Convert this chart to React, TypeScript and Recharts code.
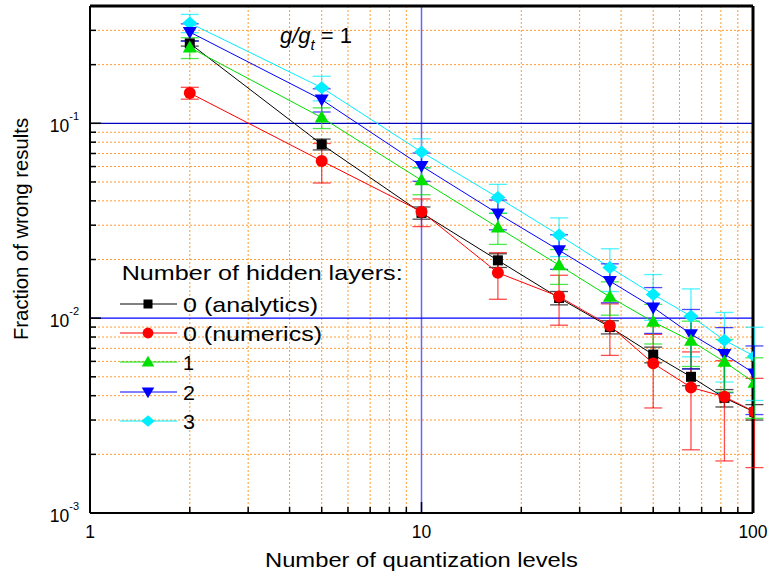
import React from "react";
import {
  ComposedChart,
  Line,
  XAxis,
  YAxis,
  CartesianGrid,
  ReferenceLine,
  ErrorBar,
  Legend,
  Label,
} from "recharts";

// ---------------- data ----------------
const levels = [2, 5, 10, 17, 26, 37, 50, 65, 82, 101];
const analytics = [0.257, 0.078, 0.0347, 0.0198, 0.0127, 0.009, 0.0065, 0.005, 0.0039, 0.0033];
const numerics = [0.143, 0.0641, 0.0352, 0.0171, 0.0129, 0.00914, 0.00586, 0.00441, 0.00395, 0.00331];
const hidden1 = [0.245, 0.107, 0.051, 0.0292, 0.0187, 0.01286, 0.00957, 0.00765, 0.00597, 0.00466];
const hidden2 = [0.294, 0.1323, 0.0604, 0.0344, 0.0223, 0.0155, 0.01135, 0.00828, 0.00654, 0.0052];
const hidden3 = [0.327, 0.1524, 0.0713, 0.0416, 0.0267, 0.0182, 0.01324, 0.01023, 0.0077, 0.00638];

const errAnalytics = [0.008, 0.005, 0.0025, 0.0016, 0.001, 0.0007, 0.0006, 0.0005, 0.0004, 0.0003];
const errNumerics = [0.01, 0.0147, 0.0057, 0.0046, 0.0037, 0.0027, 0.0024, 0.0023, 0.0021, 0.0016];
const errHidden1 = [0.03, 0.013, 0.008, 0.0053, 0.0038, 0.0025, 0.0022, 0.002, 0.0018, 0.0016];
const errHidden2 = [0.03, 0.018, 0.01, 0.006, 0.0045, 0.0035, 0.003, 0.0028, 0.0024, 0.002];
const errHidden3 = [0.035, 0.022, 0.012, 0.007, 0.006, 0.0045, 0.0035, 0.0039, 0.003, 0.0026];

const seriesKeys = ["a", "n", "h1", "h2", "h3"];
const seriesNames = ["0 (analytics)", "0 (numerics)", "1", "2", "3"];
const seriesColors = ["#000000", "#ff0000", "#00e000", "#0000ff", "#00eeff"];
const seriesShapes = ["square", "circle", "up", "down", "diamond"];
const legendTitle = "Number of hidden layers:";
const xTitle = "Number of quantization levels";
const yTitle = "Fraction of wrong results";

const xTicks = [1, 2, 3, 4, 5, 6, 7, 8, 9, 10, 20, 30, 40, 50, 60, 70, 80, 90, 100];
const yTicks = [
  0.001, 0.002, 0.003, 0.004, 0.005, 0.006, 0.007, 0.008, 0.009,
  0.01, 0.02, 0.03, 0.04, 0.05, 0.06, 0.07, 0.08, 0.09,
  0.1, 0.2, 0.3,
];
const xMajor = [1, 10, 100];
const yMajor = [0.001, 0.01, 0.1];
const xGrid = [2, 3, 4, 5, 6, 7, 8, 9, 20, 30, 40, 50, 60, 70, 80, 90];
const yGrid = [
  0.002, 0.003, 0.004, 0.005, 0.006, 0.007, 0.008, 0.009,
  0.02, 0.03, 0.04, 0.05, 0.06, 0.07, 0.08, 0.09, 0.2, 0.3,
];

const data = levels.map((x, i) => ({
  x,
  a: analytics[i],
  n: numerics[i],
  h1: hidden1[i],
  h2: hidden2[i],
  h3: hidden3[i],
  ea: errAnalytics[i],
  en: errNumerics[i],
  e1: errHidden1[i],
  e2: errHidden2[i],
  e3: errHidden3[i],
}));

const FONT = "'Liberation Sans', Arial, Helvetica, sans-serif";

// ---------------- markers ----------------
function Marker({ cx, cy, shape, color, s = 1 }: any) {
  if (cx == null || cy == null || isNaN(cx) || isNaN(cy)) return null;
  switch (shape) {
    case "square":
      return <rect x={cx - 5 * s} y={cy - 5 * s} width={10 * s} height={10 * s} fill={color} />;
    case "circle":
      return <circle cx={cx} cy={cy} r={6 * s} fill={color} />;
    case "up":
      return (
        <polygon
          points={`${cx},${cy - 7 * s} ${cx - 7 * s},${cy + 5 * s} ${cx + 7 * s},${cy + 5 * s}`}
          fill={color}
        />
      );
    case "down":
      return (
        <polygon
          points={`${cx - 7 * s},${cy - 5 * s} ${cx + 7 * s},${cy - 5 * s} ${cx},${cy + 7 * s}`}
          fill={color}
        />
      );
    case "diamond":
      return (
        <polygon
          points={`${cx},${cy - 6.5 * s} ${cx + 7.5 * s},${cy} ${cx},${cy + 6.5 * s} ${cx - 7.5 * s},${cy}`}
          fill={color}
        />
      );
    default:
      return null;
  }
}

// ---------------- ticks ----------------
function XTick(props: any) {
  const { x, y, payload } = props;
  const v = payload.value;
  const major = xMajor.includes(v);
  return (
    <g>
      <line x1={x} x2={x} y1={y} y2={y - (major ? 11 : 6)} stroke="#000" strokeWidth={1.5} />
      {major && (
        <text x={x} y={y + 25} textAnchor="middle" fontSize={17.5} fontFamily={FONT} fill="#000">
          {v}
        </text>
      )}
    </g>
  );
}

function YTick(props: any) {
  const { x, y, payload } = props;
  const v = payload.value;
  const major = yMajor.some((m) => Math.abs(m - v) < 1e-12);
  const exp = Math.round(Math.log10(v));
  return (
    <g>
      <line x1={x} x2={x + (major ? 11 : 6)} y1={y} y2={y} stroke="#000" strokeWidth={1.5} />
      {major && (
        <text x={x - 11} y={y + 8.5} textAnchor="end" fontSize={17.5} fontFamily={FONT} fill="#000">
          10
          <tspan fontSize={11} dy={-11.5}>
            {exp}
          </tspan>
        </text>
      )}
    </g>
  );
}

function XTitle(props: any) {
  const vb = props.viewBox || {};
  const cx = vb.x + vb.width / 2;
  return (
    <text
      x={cx}
      y={vb.y + 54}
      textAnchor="middle"
      fontSize={21}
      fontFamily={FONT}
      fill="#000"
      textLength={313}
      lengthAdjust="spacingAndGlyphs"
    >
      {xTitle}
    </text>
  );
}

function YTitle(props: any) {
  const vb = props.viewBox || {};
  const tx = vb.x + 28;
  const ty = 229;
  return (
    <text
      x={tx}
      y={ty}
      transform={`rotate(-90, ${tx}, ${ty})`}
      textAnchor="middle"
      fontSize={20.3}
      fontFamily={FONT}
      fill="#000"
    >
      {yTitle}
    </text>
  );
}

const legendTextLen = [135, 139, 11, 12, 12];

function LegendContent() {
  const rowY = [49, 78, 107, 137, 166];
  return (
    <svg width={330} height={185} style={{ overflow: "visible" }}>
      <text
        x={11.7}
        y={25}
        fontSize={21}
        fontFamily={FONT}
        fill="#000"
        textLength={281}
        lengthAdjust="spacingAndGlyphs"
      >
        {legendTitle}
      </text>
      {seriesNames.map((name, i) => (
        <g key={name}>
          <line x1={10} x2={67} y1={rowY[i]} y2={rowY[i]} stroke={seriesColors[i]} strokeWidth={1} />
          <Marker cx={38} cy={rowY[i]} shape={seriesShapes[i]} color={seriesColors[i]} s={0.9} />
          <text
            x={73}
            y={rowY[i] + 7.5}
            fontSize={21}
            fontFamily={FONT}
            fill="#000"
            textLength={legendTextLen[i]}
            lengthAdjust="spacingAndGlyphs"
          >
            {name}
          </text>
        </g>
      ))}
    </svg>
  );
}

// draw order: analytics, numerics, 3, 2, 1
const drawOrder = [0, 1, 4, 3, 2];
const errKeys = ["ea", "en", "e1", "e2", "e3"];

export default function App() {
  return (
    <div style={{ position: "absolute", left: 0, top: 0, width: 771, height: 582, background: "#fff" }}>
      <ComposedChart
        width={771}
        height={582}
        data={data}
        margin={{ top: 6, right: 18, bottom: 0, left: 0 }}
      >
        <CartesianGrid
          stroke="#ff9a2e"
          strokeDasharray="2 2"
          strokeWidth={1}
          horizontalValues={yGrid}
          verticalValues={xGrid}
        />
        <XAxis
          dataKey="x"
          type="number"
          scale="log"
          domain={[1, 100]}
          allowDataOverflow
          ticks={xTicks}
          interval={0}
          tick={<XTick />}
          tickSize={0}
          tickMargin={0}
          tickLine={false}
          height={69}
          axisLine={{ stroke: "#000", strokeWidth: 2 }}
        >
          <Label content={<XTitle />} />
        </XAxis>
        <YAxis
          type="number"
          scale="log"
          domain={[0.001, 0.4]}
          allowDataOverflow
          ticks={yTicks}
          interval={0}
          tick={<YTick />}
          tickSize={0}
          tickMargin={0}
          tickLine={false}
          width={90}
          axisLine={{ stroke: "#000", strokeWidth: 2 }}
        >
          <Label content={<YTitle />} />
        </YAxis>
        <ReferenceLine x={10} stroke="#6666ff" strokeWidth={1.5} />
        <ReferenceLine y={0.1} stroke="#0000c0" strokeWidth={1.2} />
        <ReferenceLine y={0.01} stroke="#0000ff" strokeWidth={1.2} />
        <ReferenceLine y={0.4} stroke="#000" strokeWidth={3} />
        <ReferenceLine x={100} stroke="#000" strokeWidth={3} />
        {drawOrder.map((i) => (
          <Line
            key={seriesKeys[i]}
            dataKey={seriesKeys[i]}
            name={seriesNames[i]}
            type="linear"
            stroke={seriesColors[i]}
            strokeWidth={1}
            isAnimationActive={false}
            activeDot={false}
            dot={(p: any) => (
              <Marker key={`${seriesKeys[i]}-${p.index}`} cx={p.cx} cy={p.cy} shape={seriesShapes[i]} color={seriesColors[i]} />
            )}
          >
            <ErrorBar
              dataKey={errKeys[i]}
              direction="y"
              width={9}
              stroke={seriesColors[i]}
              strokeOpacity={0.7}
              strokeWidth={1.3}
              isAnimationActive={false}
            />
          </Line>
        ))}
        <Legend
          verticalAlign="middle"
          layout="horizontal"
          wrapperStyle={{ left: 110, top: 255, width: 330, height: 185 }}
          content={<LegendContent />}
        />
      </ComposedChart>
      <svg
        width={771}
        height={582}
        style={{ position: "absolute", left: 0, top: 0, pointerEvents: "none" }}
      >
        <text x={280} y={43} fontSize={22} fontFamily={FONT} fill="#000">
          <tspan fontStyle="italic">g/g</tspan>
          <tspan fontStyle="italic" fontSize={15} dy={7}>
            t
          </tspan>
          <tspan dy={-7} dx={6}>
            = 1
          </tspan>
        </text>
      </svg>
    </div>
  );
}
